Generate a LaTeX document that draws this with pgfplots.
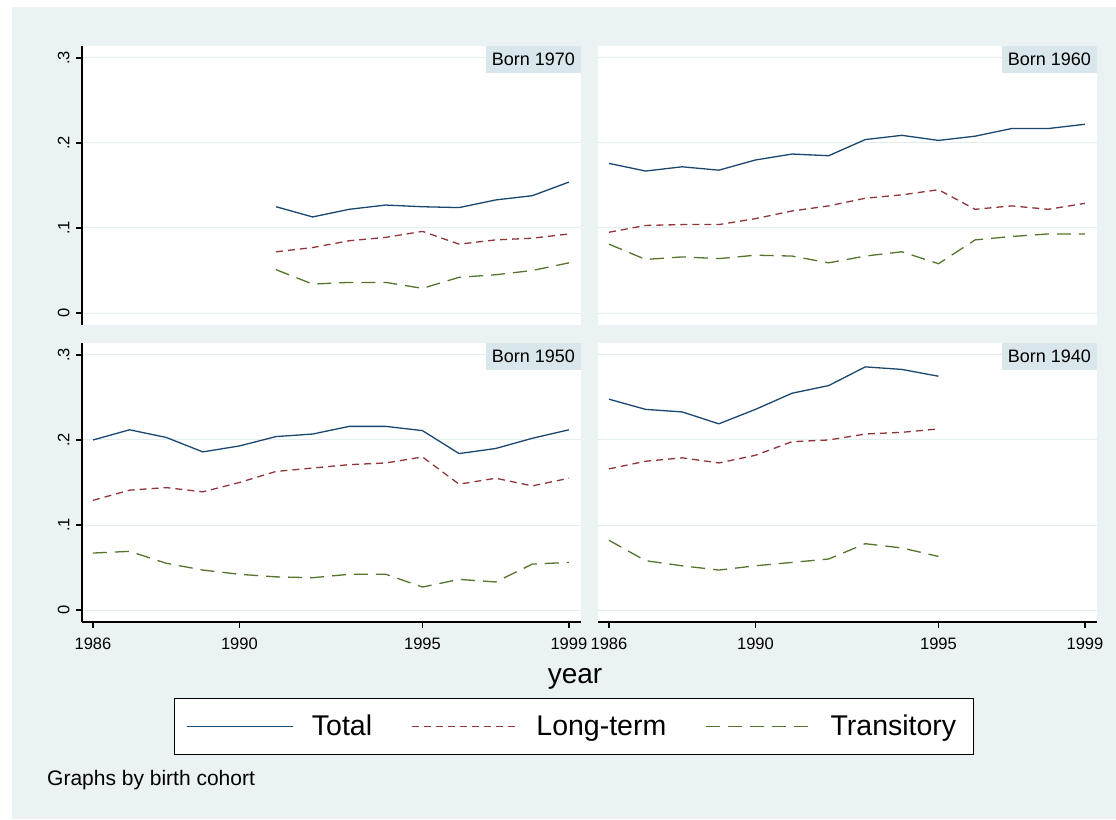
\documentclass[border=0pt]{standalone}
\usepackage{pgfplots}
\pgfplotsset{compat=1.18}
\usepackage{fontspec}
\setmainfont{Liberation Sans}
\definecolor{bgcol}{HTML}{EAF2F3}
\definecolor{gridcol}{HTML}{E4EDEF}
\definecolor{lblcol}{HTML}{D9E6EB}
\definecolor{snavy}{HTML}{1A476F}
\definecolor{smaroon}{HTML}{90353B}
\definecolor{sgreen}{HTML}{55752F}
\newcommand{\lgt}[1]{\raisebox{0pt}[20pt][0pt]{#1}}
\tikzset{
  bornlbl/.style={fill=lblcol, anchor=north east, minimum width=95pt, minimum height=27pt, inner sep=0pt, font=\fontsize{18}{18}\selectfont},
}
\pgfplotsset{
  panel/.style={
    scale only axis, width=499pt, height=279pt,
    xmin=1985.70, xmax=1999.33, ymin=-0.0141, ymax=0.3141,
    axis lines*=left, axis line style={-, black, line width=1.2pt},
    axis background/.style={fill=white},
    ytick={0,0.1,0.2,0.3}, yticklabels={0,.1,.2,.3},
    xtick={1986,1990,1995,1999}, xticklabels={1986,1990,1995,1999},
    ymajorgrids, major grid style={gridcol, line width=1pt},
    tick align=outside, major tick length=6pt,
    tick style={black, line width=1.2pt},
    ticklabel style={font=\fontsize{16.5}{16.5}\selectfont},
    yticklabel style={rotate=90, anchor=south},
    yticklabel shift=3pt,
    xticklabel shift=6pt,
    clip=false,
  },
  toppanel/.style={x axis line style={draw=none}, xtick=\empty},
  rightpanel/.style={y axis line style={draw=none}, yticklabels={}, y tick style={draw=none}},
  tot/.style={snavy, line width=1.3pt, line join=round},
  lt/.style={smaroon, line width=1.3pt, line join=round, dash pattern=on 7pt off 5pt},
  tr/.style={sgreen, line width=1.3pt, line join=round, dash pattern=on 14pt off 8pt},
}
\begin{document}
\begin{tikzpicture}
\useasboundingbox (0pt,0pt) rectangle (1116pt,819pt);
\fill[bgcol] (12pt,0pt) rectangle (1116pt,812pt);

% Born 1970 (top left)
\begin{axis}[panel, toppanel, at={(82pt,494pt)}, anchor=south west]
\addplot[tot] coordinates {(1991,0.125)(1992,0.113)(1993,0.122)(1994,0.127)(1995,0.125)(1996,0.124)(1997,0.133)(1998,0.138)(1999,0.154)};
\addplot[lt] coordinates {(1991,0.072)(1992,0.077)(1993,0.085)(1994,0.089)(1995,0.096)(1996,0.081)(1997,0.086)(1998,0.088)(1999,0.093)};
\addplot[tr] coordinates {(1991,0.051)(1992,0.034)(1993,0.036)(1994,0.036)(1995,0.029)(1996,0.042)(1997,0.045)(1998,0.050)(1999,0.059)};
\node[bornlbl] at (rel axis cs:1,1) {Born 1970};
\end{axis}

% Born 1960 (top right)
\begin{axis}[panel, toppanel, rightpanel, at={(598pt,494pt)}, anchor=south west]
\addplot[tot] coordinates {(1986,0.176)(1987,0.167)(1988,0.172)(1989,0.168)(1990,0.180)(1991,0.187)(1992,0.185)(1993,0.204)(1994,0.209)(1995,0.203)(1996,0.208)(1997,0.217)(1998,0.217)(1999,0.222)};
\addplot[lt] coordinates {(1986,0.095)(1987,0.103)(1988,0.104)(1989,0.104)(1990,0.111)(1991,0.120)(1992,0.126)(1993,0.135)(1994,0.139)(1995,0.145)(1996,0.122)(1997,0.126)(1998,0.122)(1999,0.129)};
\addplot[tr] coordinates {(1986,0.081)(1987,0.063)(1988,0.066)(1989,0.064)(1990,0.068)(1991,0.067)(1992,0.059)(1993,0.067)(1994,0.072)(1995,0.058)(1996,0.086)(1997,0.090)(1998,0.093)(1999,0.093)};
\node[bornlbl] at (rel axis cs:1,1) {Born 1960};
\end{axis}

% Born 1950 (bottom left) with legend
\begin{axis}[panel, at={(82pt,197pt)}, anchor=south west,
  legend columns=3,
  legend style={at={(0.1844,-0.2724)}, anchor=north west, draw=black, line width=1.2pt, fill=white,
    inner xsep=12pt, inner ysep=17pt, font=\fontsize{28.5}{28.5}\selectfont,
    nodes={inner sep=0pt},
    /tikz/every odd column/.append style={column sep=18pt},
    /tikz/every even column/.append style={column sep=39pt}},
  legend image code/.code={\draw[#1] (0pt,0pt) -- (106pt,0pt);},
]
\addplot[tot] coordinates {(1986,0.200)(1987,0.212)(1988,0.203)(1989,0.186)(1990,0.193)(1991,0.204)(1992,0.207)(1993,0.216)(1994,0.216)(1995,0.211)(1996,0.184)(1997,0.190)(1998,0.202)(1999,0.212)};
\addlegendentry{\lgt{Total}}
\addplot[lt] coordinates {(1986,0.129)(1987,0.141)(1988,0.144)(1989,0.139)(1990,0.150)(1991,0.163)(1992,0.167)(1993,0.171)(1994,0.173)(1995,0.180)(1996,0.148)(1997,0.155)(1998,0.146)(1999,0.155)};
\addlegendentry{\lgt{Long-term}}
\addplot[tr] coordinates {(1986,0.067)(1987,0.069)(1988,0.055)(1989,0.047)(1990,0.042)(1991,0.039)(1992,0.038)(1993,0.042)(1994,0.042)(1995,0.027)(1996,0.036)(1997,0.033)(1998,0.054)(1999,0.056)};
\addlegendentry{\lgt{Transitory\hspace{5pt}}}
\node[bornlbl] at (rel axis cs:1,1) {Born 1950};
\end{axis}

% Born 1940 (bottom right)
\begin{axis}[panel, rightpanel, at={(598pt,197pt)}, anchor=south west]
\addplot[tot] coordinates {(1986,0.248)(1987,0.236)(1988,0.233)(1989,0.219)(1990,0.236)(1991,0.255)(1992,0.264)(1993,0.286)(1994,0.283)(1995,0.275)};
\addplot[lt] coordinates {(1986,0.166)(1987,0.175)(1988,0.179)(1989,0.173)(1990,0.182)(1991,0.198)(1992,0.200)(1993,0.207)(1994,0.209)(1995,0.213)};
\addplot[tr] coordinates {(1986,0.082)(1987,0.058)(1988,0.052)(1989,0.047)(1990,0.052)(1991,0.056)(1992,0.060)(1993,0.078)(1994,0.073)(1995,0.063)};
\node[bornlbl] at (rel axis cs:1,1) {Born 1940};
\end{axis}

\node[font=\fontsize{28}{28}\selectfont] at (575pt,140pt) {year};
\node[font=\fontsize{21}{21}\selectfont, anchor=west, inner sep=0pt] at (47pt,39pt) {Graphs by birth cohort};
\end{tikzpicture}
\end{document}
